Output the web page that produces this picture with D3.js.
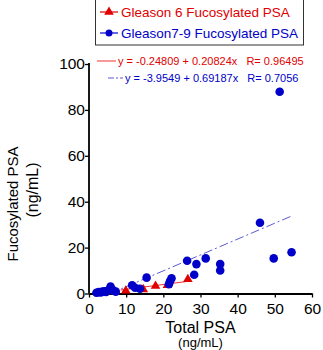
<!DOCTYPE html>
<meta charset="utf-8">
<script src="https://d3js.org/d3.v7.min.js"></script>
<body style="margin:0;background:#fff">
    <div id="viz"></div>
</body>
<style>
    text { font-family: "Liberation Sans", Arial, sans-serif; }
</style>
<script>
    // Gleason 6 (red triangles)
    let g6x = [9.9, 14.6, 17.9, 21.1, 26.6];
    let g6y = [1.2, 1.8, 3.3, 3.6, 6.2];
    // Gleason 7-9 (blue circles)
    let g79x = [2.0, 2.6, 3.2, 3.6, 4.2, 4.6, 5.2, 5.8, 6.1, 6.6, 7.2, 11.6, 12.4, 13.7, 15.5, 21.5, 21.8, 22.2, 26.4, 28.3, 28.9, 31.4, 35.3, 35.3, 46.0, 49.7, 51.3, 54.5];
    let g79y = [0.3, 0.6, 0.5, 0.9, 1.0, 0.7, 1.4, 3.0, 1.8, 1.2, 0.8, 3.6, 2.5, 2.1, 6.9, 4.0, 5.4, 6.6, 14.3, 8.2, 12.8, 15.3, 12.8, 10.0, 30.8, 15.3, 87.9, 18.0];
    let xTicks = [0, 10, 20, 30, 40, 50, 60];
    let yTicks = [0, 20, 40, 60, 80, 100];
    let fitRed = {a: -0.24809, b: 0.20824, from: 8.5, to: 27};
    let fitBlue = {a: -3.9549, b: 0.69187, from: 5.7, to: 54.5};

    let width = 323, height = 350;
    let svg = d3.select("#viz").append("svg")
        .attr("width", width).attr("height", height);

    let x = d3.scaleLinear().domain([0, 60]).range([89, 312]);
    let y = d3.scaleLinear().domain([0, 100]).range([293.5, 64]);

    //axes
    let xAxis = svg.append("g")
        .attr("transform", `translate(0,${y(0)})`)
        .call(d3.axisBottom(x).tickValues(xTicks).tickSize(4).tickSizeOuter(0));
    xAxis.selectAll(".tick text").attr("font-size", 15.5).attr("dy", "0.85em")
        .style("font-family", "Liberation Sans, Arial, sans-serif");
    xAxis.select(".domain").attr("stroke-width", 1.8);
    xAxis.selectAll(".tick line").attr("stroke-width", 1.3);

    let yAxis = svg.append("g")
        .attr("transform", `translate(${x(0)},0)`)
        .call(d3.axisLeft(y).tickValues(yTicks).tickSize(4).tickSizeOuter(0));
    yAxis.selectAll(".tick text").attr("font-size", 15.5).attr("x", -4)
        .style("font-family", "Liberation Sans, Arial, sans-serif");
    yAxis.select(".domain").attr("stroke-width", 1.8)
        .attr("d", `M0,${y(0)}V${y(100) - 1}`);
    yAxis.selectAll(".tick line").attr("stroke-width", 1.3);

    //axis titles
    svg.append("text").attr("x", x(30)).attr("y", 333)
        .attr("text-anchor", "middle").attr("font-size", 16).text("Total PSA");
    svg.append("text").attr("x", x(30)).attr("y", 347)
        .attr("text-anchor", "middle").attr("font-size", 13).text("(ng/mL)");
    svg.append("text").attr("transform", "translate(18,204) rotate(-90)")
        .attr("text-anchor", "middle").attr("font-size", 15).text("Fucosylated PSA");
    svg.append("text").attr("transform", "translate(38,190) rotate(-90)")
        .attr("text-anchor", "middle").attr("font-size", 16).text("(ng/mL)");

    //fit lines, clipped to the plot area
    svg.append("clipPath").attr("id", "plot")
        .append("rect").attr("x", x(0)).attr("y", y(100)).attr("width", x(60) - x(0)).attr("height", y(0) - y(100));
    let line = d3.line().x(d => x(d[0])).y(d => y(d[1]));
    svg.append("path")
        .attr("d", line([[fitBlue.from, fitBlue.a + fitBlue.b * fitBlue.from], [fitBlue.to, fitBlue.a + fitBlue.b * fitBlue.to]]))
        .attr("clip-path", "url(#plot)")
        .style("fill", "none").style("stroke", "#5a5ad2").style("stroke-width", 1)
        .style("stroke-dasharray", "9,3,2,3");
    svg.append("path")
        .attr("d", line([[fitRed.from, fitRed.a + fitRed.b * fitRed.from], [fitRed.to, fitRed.a + fitRed.b * fitRed.to]]))
        .style("fill", "none").style("stroke", "#f03030").style("stroke-width", 1);

    //points
    let tri = d3.symbol().type(d3.symbolTriangle).size(40);
    svg.append("g").selectAll("path")
        .data(g6x)
        .enter().append("path")
            .attr("d", tri)
            .attr("transform", (d, i) => `translate(${x(d)},${y(g6y[i])})`)
            .style("fill", "#e00000");
    svg.append("g").selectAll("circle")
        .data(g79x)
        .enter().append("circle")
            .attr("cx", d => x(d))
            .attr("cy", (d, i) => y(g79y[i]))
            .attr("r", 4.3)
            .style("fill", "#0000c8");

    //legend
    let legend = svg.append("g");
    legend.append("rect").attr("x", 95.5).attr("y", -1).attr("width", 208).attr("height", 46)
        .style("fill", "white").style("stroke", "#333").style("stroke-width", 1);
    legend.append("line").attr("x1", 100).attr("x2", 118).attr("y1", 12).attr("y2", 12)
        .style("stroke", "#e00000").style("stroke-width", 1.2);
    legend.append("path").attr("d", tri).attr("transform", "translate(109,12)").style("fill", "#e00000");
    legend.append("text").attr("x", 121).attr("y", 17).attr("font-size", 13.5)
        .style("fill", "#e00000").text("Gleason 6 Fucosylated PSA");
    legend.append("line").attr("x1", 100).attr("x2", 118).attr("y1", 33).attr("y2", 33)
        .style("stroke", "#0000c8").style("stroke-width", 1.2);
    legend.append("circle").attr("cx", 109).attr("cy", 33).attr("r", 3.5).style("fill", "#0000c8");
    legend.append("text").attr("x", 121).attr("y", 38).attr("font-size", 13.5)
        .style("fill", "#0000c8").text("Gleason7-9 Fucosylated PSA");

    //fit equations
    svg.append("line").attr("x1", 97).attr("x2", 116).attr("y1", 61).attr("y2", 61)
        .style("stroke", "#f03030").style("stroke-width", 1);
    svg.append("text").attr("x", 118).attr("y", 65).attr("font-size", 11).style("fill", "#e00000")
        .attr("xml:space", "preserve")
        .text(`y = ${fitRed.a} + ${fitRed.b}x   R= 0.96495`);
    svg.append("line").attr("x1", 108).attr("x2", 123).attr("y1", 78).attr("y2", 78)
        .style("stroke", "#5a5ad2").style("stroke-width", 1).style("stroke-dasharray", "6,2,2,2");
    svg.append("text").attr("x", 125).attr("y", 82).attr("font-size", 11).style("fill", "#0000c8")
        .attr("xml:space", "preserve")
        .text(`y = ${fitBlue.a} + ${fitBlue.b}x   R= 0.7056`);
</script>
